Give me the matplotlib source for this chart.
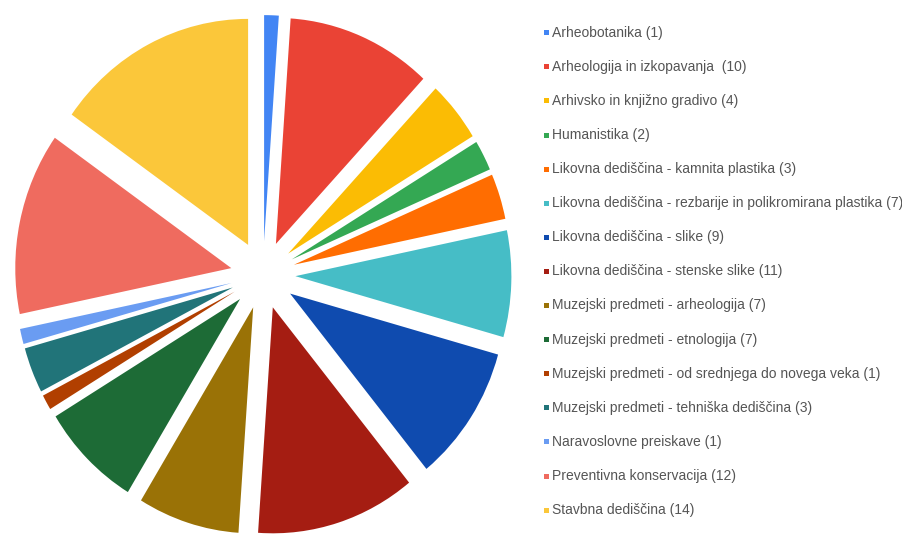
import matplotlib
matplotlib.use("Agg")
import matplotlib.pyplot as plt
from matplotlib.patches import Rectangle

categories = [
    "Arheobotanika",
    "Arheologija in izkopavanja ",
    "Arhivsko in knjižno gradivo",
    "Humanistika",
    "Likovna dediščina - kamnita plastika",
    "Likovna dediščina - rezbarije in polikromirana plastika",
    "Likovna dediščina - slike",
    "Likovna dediščina - stenske slike",
    "Muzejski predmeti - arheologija",
    "Muzejski predmeti - etnologija",
    "Muzejski predmeti - od srednjega do novega veka",
    "Muzejski predmeti - tehniška dediščina",
    "Naravoslovne preiskave",
    "Preventivna konservacija",
    "Stavbna dediščina",
]
values = [1, 10, 4, 2, 3, 7, 9, 11, 7, 7, 1, 3, 1, 12, 14]
colors = [
    "#4285F4", "#EA4335", "#FBBC04", "#34A853", "#FF6D01",
    "#46BDC6", "#0F4BAF", "#A51D12", "#9A7206", "#1D6B36",
    "#B13F00", "#217479", "#6A9CF2", "#EF6B5F", "#FBC73A",
]
labels = [f"{c} ({v})" for c, v in zip(categories, values)]

W, H = 903, 535
fig = plt.figure(figsize=(W / 100, H / 100), dpi=100)
fig.patch.set_facecolor("white")

# pie geometry in pixels
cx, cy = 263, 275          # centre (image coords, y down)
sx, sy = 216, 226          # px per unit
lim = 1.3
left = (cx - lim * sx) / W
bottom = ((H - cy) - lim * sy) / H
ax = fig.add_axes([left, bottom, 2 * lim * sx / W, 2 * lim * sy / H])
ax.pie(values, colors=colors, startangle=90, counterclock=False,
       explode=[0.15] * len(values), radius=1.0,
       wedgeprops=dict(linewidth=0, antialiased=True))
ax.set_aspect("auto")
ax.set_xlim(-lim, lim)
ax.set_ylim(-lim, lim)
ax.axis("off")

# legend
y0, dy = 32.7, 34.1
for i, (lab, col) in enumerate(zip(labels, colors)):
    y = y0 + i * dy
    fig.patches.append(Rectangle(((546 - 2.5) / W, 1 - (y + 2.5) / H), 5 / W, 5 / H,
                                 transform=fig.transFigure, facecolor=col,
                                 edgecolor="none"))
    fig.text(552 / W, 1 - y / H, lab, fontsize=10, color="#555555",
             family="Liberation Sans", va="center", ha="left")

fig.savefig("out.png", dpi=100, facecolor="white")
